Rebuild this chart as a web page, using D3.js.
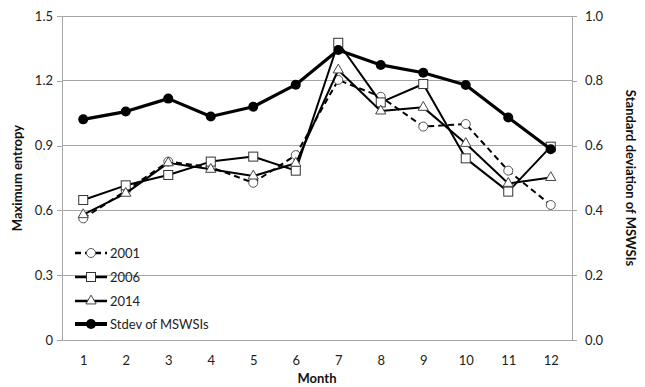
<!DOCTYPE html>
<html><head><meta charset="utf-8">
<script src="https://cdn.jsdelivr.net/npm/d3@7"></script>
<style>
html,body{margin:0;padding:0;background:#fff;}
svg{display:block;font-family:Lato,"Open Sans",sans-serif;}
</style></head>
<body>
<svg id="chart" width="645" height="387"></svg>
<script>
const months = [1,2,3,4,5,6,7,8,9,10,11,12];
const e2001 = [0.563, 0.69, 0.826, 0.80, 0.728, 0.856, 1.204, 1.126, 0.988, 1.0, 0.784, 0.625];
const e2006 = [0.648, 0.716, 0.764, 0.826, 0.849, 0.784, 1.376, 1.10, 1.185, 0.841, 0.687, 0.895];
const e2014 = [0.58, 0.679, 0.82, 0.79, 0.759, 0.818, 1.25, 1.06, 1.077, 0.91, 0.725, 0.752];
const stdevMSWSI = [0.681, 0.705, 0.745, 0.69, 0.72, 0.788, 0.895, 0.849, 0.825, 0.787, 0.687, 0.589];
const leftTicks = [0, 0.3, 0.6, 0.9, 1.2, 1.5];
const rightTicks = [0, 0.2, 0.4, 0.6, 0.8, 1.0];
const seriesNames = ["2001", "2006", "2014", "Stdev of MSWSIs"];

const svg = d3.select("#chart");
const L = 62, R = 572, T = 16, B = 340;
const x = d3.scalePoint().domain(months).range([L, R]).padding(0.5);
const yL = d3.scaleLinear().domain([0, 1.5]).range([B, T]);
const yR = d3.scaleLinear().domain([0, 1.0]).range([B, T]);
const grid = "#a6a6a6";

// gridlines
svg.append("g").selectAll("line").data(leftTicks).join("line")
  .attr("x1", L).attr("x2", R).attr("y1", d => yL(d)).attr("y2", d => yL(d))
  .attr("stroke", grid).attr("stroke-width", 1).attr("shape-rendering", "crispEdges");

// left axis
const gl = svg.append("g").attr("transform", `translate(${L},0)`)
  .call(d3.axisLeft(yL).tickValues(leftTicks).tickSize(5).tickPadding(4)
    .tickFormat(d => d === 0 ? "0" : d3.format(".1f")(d)));
gl.select(".domain").attr("stroke", grid).attr("shape-rendering", "crispEdges");
gl.selectAll(".tick line").attr("stroke", grid).attr("shape-rendering", "crispEdges");
gl.selectAll("text").attr("font-size", 13).attr("fill", "#222").attr("font-family", "Lato,sans-serif");

// right axis
const gr = svg.append("g").attr("transform", `translate(${R},0)`)
  .call(d3.axisRight(yR).tickValues(rightTicks).tickSize(5).tickPadding(8)
    .tickFormat(d3.format(".1f")));
gr.select(".domain").attr("stroke", grid).attr("shape-rendering", "crispEdges");
gr.selectAll(".tick line").attr("stroke", grid).attr("shape-rendering", "crispEdges");
gr.selectAll("text").attr("font-size", 13).attr("fill", "#222").attr("font-family", "Lato,sans-serif");

// bottom axis
const gb = svg.append("g").attr("transform", `translate(0,${B})`)
  .call(d3.axisBottom(x).tickSize(0).tickPadding(16));
gb.select(".domain").remove();
gb.selectAll("text").attr("font-size", 13).attr("fill", "#222").attr("font-family", "Lato,sans-serif");

// axis titles
svg.append("text").attr("x", L + (R - L) / 2).attr("y", 383).attr("text-anchor", "middle")
  .attr("font-size", 13).attr("font-weight", "bold").attr("fill", "#111").text("Month");
svg.append("text").attr("transform", `translate(22,${(T + B) / 2}) rotate(-90)`)
  .attr("text-anchor", "middle").attr("font-size", 13).attr("font-weight", "bold").attr("fill", "#111")
  .text("Maximum entropy");
svg.append("text").attr("transform", `translate(626,${(T + B) / 2}) rotate(90)`)
  .attr("text-anchor", "middle").attr("font-size", 13).attr("font-weight", "bold").attr("fill", "#111")
  .text("Standard deviation of MSWSIs");

const series = [
  {name: seriesNames[0], vals: e2001, y: yL, width: 2, dash: "6,4", marker: "circle"},
  {name: seriesNames[1], vals: e2006, y: yL, width: 2, dash: null, marker: "square"},
  {name: seriesNames[2], vals: e2014, y: yL, width: 2, dash: null, marker: "triangle"},
  {name: seriesNames[3], vals: stdevMSWSI, y: yR, width: 3.2, dash: null, marker: "dot"}
];

function drawMarker(g, type, cx, cy) {
  if (type === "circle") {
    g.append("circle").attr("cx", cx).attr("cy", cy).attr("r", 4.5)
      .attr("fill", "#fff").attr("stroke", "#555").attr("stroke-width", 1);
  } else if (type === "square") {
    g.append("rect").attr("x", cx - 4.5).attr("y", cy - 4.5).attr("width", 9).attr("height", 9)
      .attr("fill", "#fff").attr("stroke", "#333").attr("stroke-width", 1);
  } else if (type === "triangle") {
    g.append("path").attr("d", d3.symbol(d3.symbolTriangle, 45)()).attr("transform", `translate(${cx},${cy})`)
      .attr("fill", "#fff").attr("stroke", "#444").attr("stroke-width", 1);
  } else {
    g.append("circle").attr("cx", cx).attr("cy", cy).attr("r", 5).attr("fill", "#000");
  }
}

series.forEach(s => {
  const g = svg.append("g");
  const line = d3.line().x((d, i) => x(months[i])).y(d => s.y(d));
  g.append("path").datum(s.vals).attr("d", line).attr("fill", "none")
    .attr("stroke", "#000").attr("stroke-width", s.width)
    .attr("stroke-dasharray", s.dash).attr("stroke-linejoin", "round");
  s.vals.forEach((v, i) => drawMarker(g, s.marker, x(months[i]), s.y(v)));
});

// legend
const legY = [253, 277, 301, 324];
series.forEach((s, i) => {
  const g = svg.append("g");
  g.append("line").attr("x1", 75).attr("x2", 107).attr("y1", legY[i]).attr("y2", legY[i])
    .attr("stroke", "#000").attr("stroke-width", i === 3 ? 4 : 2.5).attr("stroke-dasharray", s.dash);
  drawMarker(g, s.marker, 91, legY[i]);
  g.append("text").attr("x", 110).attr("y", legY[i]).attr("dy", "0.35em")
    .attr("font-size", 13).attr("fill", "#222").text(s.name);
});
</script>
</body></html>
